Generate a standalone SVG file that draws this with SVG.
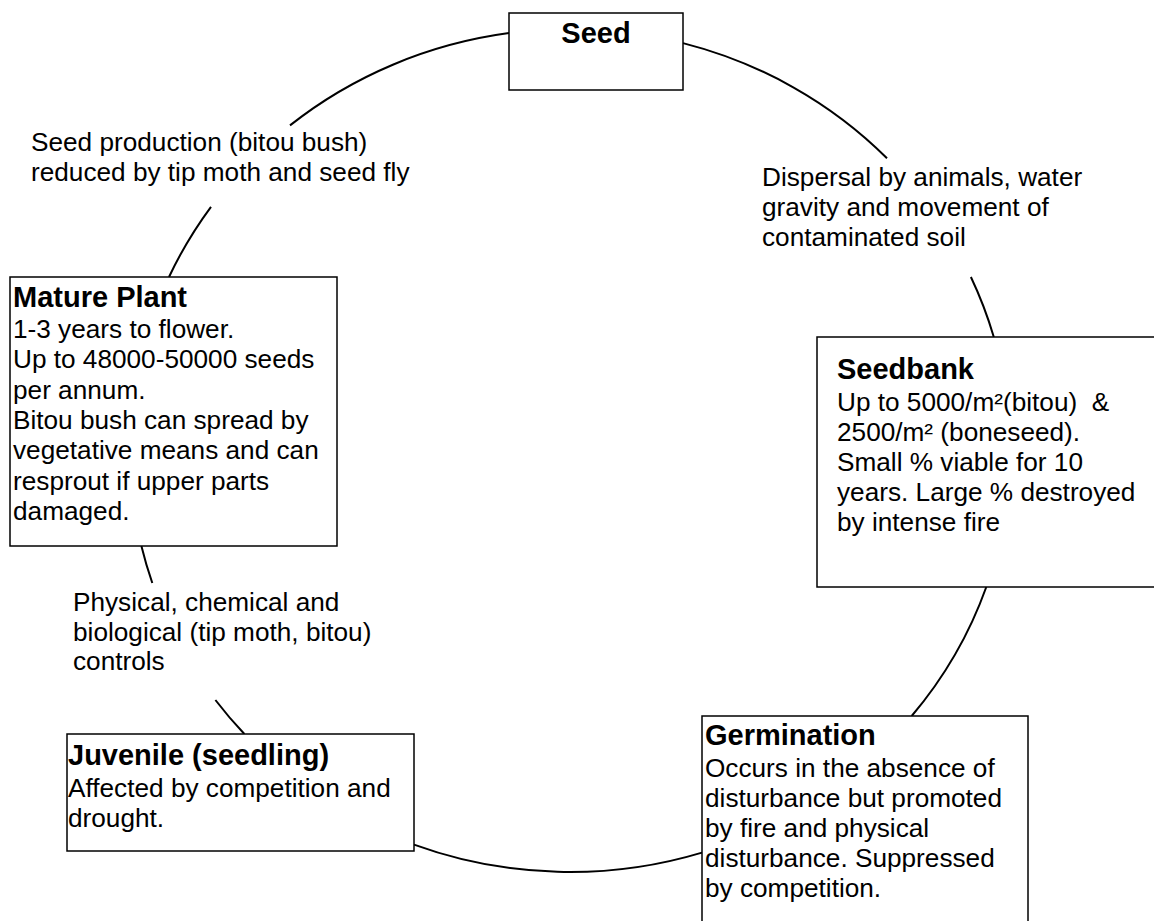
<svg xmlns="http://www.w3.org/2000/svg" width="1154" height="921" viewBox="0 0 1154 921">
<style>
.bg{fill:#fff}
.box{fill:#fff;stroke:#000;stroke-width:1.5}
.arc{fill:none;stroke:#000;stroke-width:2}
text{font-family:"Liberation Sans",Arial,sans-serif;fill:#000}
.h{font-size:29px;font-weight:bold}
.t{font-size:26.2px}
</style>
<rect class="bg" x="0" y="0" width="1154" height="921"/>
<g id="connectors">
<path class="arc" d="M509,33.1 A440,421.5 0 0 0 290,125.4"/>
<path class="arc" d="M211,206.8 A440,421.5 0 0 0 169,277"/>
<path class="arc" d="M141.4,546 A440,421.5 0 0 0 152.3,583"/>
<path class="arc" d="M215.4,700 A440,421.5 0 0 0 244.4,734"/>
<path class="arc" d="M414,844.6 A440,421.5 0 0 0 702,852.6"/>
<path class="arc" d="M911.7,716 A440,421.5 0 0 0 986.3,587"/>
<path class="arc" d="M993.8,337 A440,421.5 0 0 0 970.9,277"/>
<path class="arc" d="M887,158.2 A440,421.5 0 0 0 683,43.1"/>
</g>
<g id="labels">
<text class="t" x="31" y="151">Seed production (bitou bush)</text>
<text class="t" x="31" y="181">reduced by tip moth and seed fly</text>
<text class="t" x="762" y="185.5">Dispersal by animals, water</text>
<text class="t" x="762" y="215.5">gravity and movement of</text>
<text class="t" x="762" y="245.5">contaminated soil</text>
<text class="t" x="73" y="611">Physical, chemical and</text>
<text class="t" x="73" y="641">biological (tip moth, bitou)</text>
<text class="t" x="73" y="670">controls</text>
</g>
<g id="seed">
<rect class="box" x="509" y="13" width="174" height="77"/>
<text class="h" x="596" y="43" text-anchor="middle">Seed</text>
</g>
<g id="mature">
<rect class="box" x="10" y="277" width="327" height="269"/>
<text class="h" x="13" y="306.5">Mature Plant</text>
<text class="t" x="13" y="338">1-3 years to flower.</text>
<text class="t" x="13" y="368.3">Up to 48000-50000 seeds</text>
<text class="t" x="13" y="398.6">per annum.</text>
<text class="t" x="13" y="428.9">Bitou bush can spread by</text>
<text class="t" x="13" y="459.2">vegetative means and can</text>
<text class="t" x="13" y="489.5">resprout if upper parts</text>
<text class="t" x="13" y="519.8">damaged.</text>
</g>
<g id="seedbank">
<rect class="box" x="817" y="337" width="345" height="250"/>
<text class="h" x="837" y="379">Seedbank</text>
<text class="t" x="837" y="411" xml:space="preserve">Up to 5000/m²(bitou)  &amp;</text>
<text class="t" x="837" y="441">2500/m² (boneseed).</text>
<text class="t" x="837" y="470.5">Small % viable for 10</text>
<text class="t" x="837" y="500.5">years. Large % destroyed</text>
<text class="t" x="837" y="530.5">by intense fire</text>
</g>
<g id="germination">
<rect class="box" x="702" y="716" width="326" height="215"/>
<text class="h" x="705" y="745">Germination</text>
<text class="t" x="705" y="777">Occurs in the absence of</text>
<text class="t" x="705" y="807">disturbance but promoted</text>
<text class="t" x="705" y="837">by fire and physical</text>
<text class="t" x="705" y="867">disturbance. Suppressed</text>
<text class="t" x="705" y="897">by competition.</text>
</g>
<g id="juvenile">
<rect class="box" x="67" y="734" width="347" height="117"/>
<text class="h" x="68" y="765">Juvenile (seedling)</text>
<text class="t" x="68" y="797">Affected by competition and</text>
<text class="t" x="68" y="827">drought.</text>
</g>
</svg>
